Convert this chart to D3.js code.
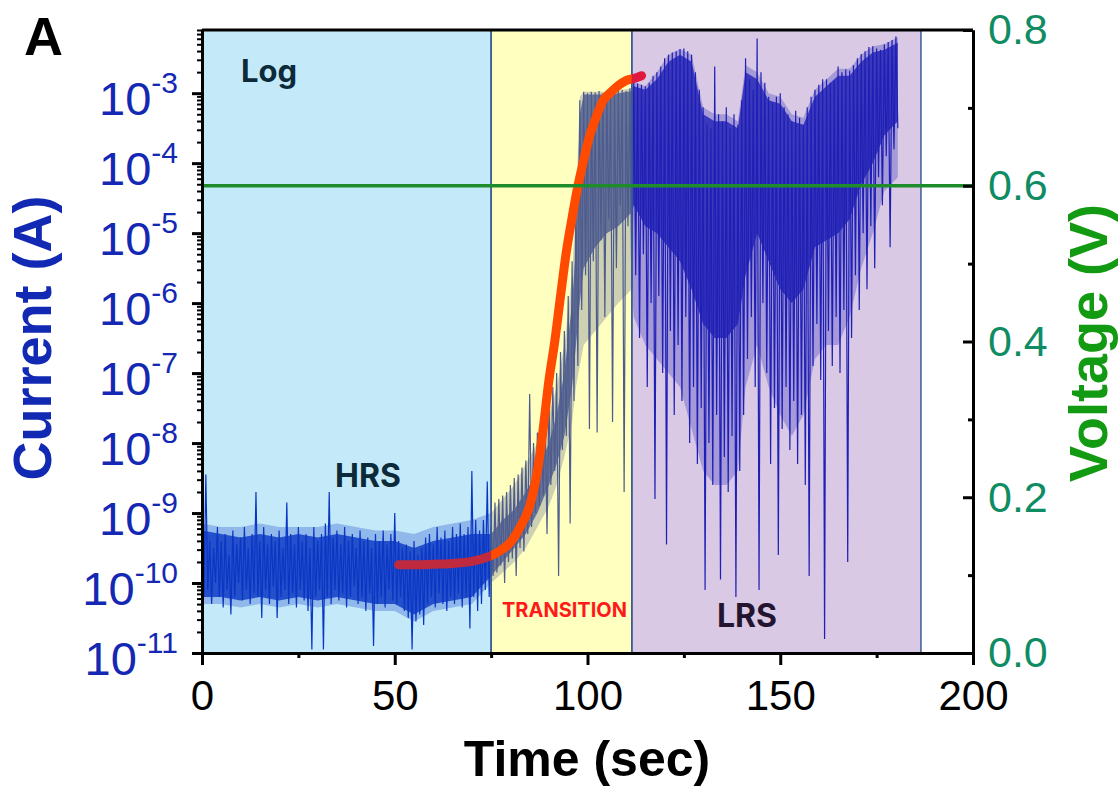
<!DOCTYPE html>
<html><head><meta charset="utf-8">
<script src="https://cdn.jsdelivr.net/npm/d3@7"></script>
<style>body{margin:0;background:#fff}svg{display:block}</style>
</head><body>
<svg id="chart" width="1120" height="788"></svg>
<script>
// ---------------- data ----------------
const xTickValues = [0, 50, 100, 150, 200];
const xMinorTickValues = [25, 75, 125, 175];
const yDecadeExponents = [-11, -10, -9, -8, -7, -6, -5, -4, -3];
const voltTickValues = [0.0, 0.2, 0.4, 0.6, 0.8];
const voltMinorTickValues = [0.1, 0.3, 0.5, 0.7];
const regionNames = ["HRS", "TRANSITION", "LRS"];
const regionStart = [0, 75, 111.5];
const regionEnd = [75, 111.5, 186.5];
const appliedVoltage = 0.6;
const sampleStep = 0.5;   // s between stored samples

// log10(Current / A), sampled every 0.5 s (individual excursions / spikes)
const hrsStartTime = 0;
const hrsLogCurrent = [
 -9.3,-10.2, -8.45,-10.1, -9.4,-10.3, -9.5,-10.0, -9.2,-10.2, -9.4,-10.35, -9.3,-10.1, -9.6,-10.45,
 -9.25,-10.2, -9.45,-10.0, -9.35,-10.25, -9.2,-10.1, -9.5,-10.3, -9.3,-10.15, -8.7,-10.2, -9.4,-10.5,
 -9.2,-10.1, -9.45,-10.3, -9.3,-10.05, -9.4,-10.5, -9.25,-10.2, -9.5,-10.1, -8.85,-10.3, -9.3,-10.15,
 -9.45,-10.35, -9.2,-10.1, -9.4,-10.25, -9.3,-10.4, -9.5,-10.95, -9.2,-10.2, -9.4,-10.1, -9.3,-10.95,
 -9.15,-10.2, -8.7,-10.3, -9.35,-10.1, -9.25,-10.25, -9.45,-10.15, -9.2,-10.35, -9.4,-10.2, -9.3,-10.05,
 -9.5,-10.3, -9.25,-10.2, -9.4,-10.4, -9.35,-10.15, -9.5,-10.9, -9.3,-10.3, -9.4,-10.2, -9.25,-10.35,
 -9.45,-10.1, -9.3,-10.25, -9.0,-10.3, -9.4,-10.2, -9.5,-10.4, -9.45,-10.5, -9.55,-10.95, -9.4,-10.55,
 -9.6,-10.45, -9.5,-10.6, -9.35,-10.3, -9.3,-10.2, -9.45,-10.35, -9.2,-10.15, -9.35,-10.3, -9.25,-10.4,
 -9.4,-10.2, -9.2,-10.3, -9.3,-10.15, -9.15,-10.35, -9.3,-10.2, -9.2,-10.65, -8.4,-10.2, -9.1,-10.4,
 -9.25,-10.3, -9.1,-10.1, -8.55,-10.2, -9.2
];
const transitionStartTime = 75.5;
const transitionLogCurrent = [
 -9.9,
 -8.85,-9.85, -8.8,-9.75, -8.75,-10.0, -8.7,-9.7, -8.6,-9.65, -8.5,-9.9, -8.45,-9.5, -8.35,-9.55,
 -8.25,-9.3, -7.3,-9.2, -8.0,-9.0, -7.85,-8.9, -7.7,-8.75, -7.6,-9.3, -7.4,-8.6, -7.2,-8.4,
 -7.0,-9.9, -6.7,-8.1, -6.4,-7.9, -5.9,-9.15, -5.4,-7.4, -4.5,-6.9, -3.1,-6.1, -2.98,-5.6,
 -3.0,-7.8, -2.98,-5.4, -2.99,-7.85, -2.97,-5.1, -3.0,-6.2, -2.98,-4.8, -3.01,-7.7, -2.98,-5.5,
 -2.97,-4.6, -2.95,-8.7, -2.97,-4.9, -2.93,-5.8
];
const lrsStartTime = 112;
const lrsLogCurrent = [
 -2.84,-5.6, -2.86,-6.5, -2.88,-5.3, -2.9,-7.2, -2.85,-6.0, -2.75,-8.8, -2.7,-5.9, -2.62,-7.0,
 -2.5,-9.45, -2.45,-6.4, -2.42,-7.6, -2.4,-6.6, -2.37,-7.4, -2.36,-6.2, -2.4,-8.0, -2.45,-7.2,
 -2.7,-8.3, -2.95,-7.5, -3.2,-10.1, -3.45,-8.0, -3.5,-8.6, -2.62,-7.6, -3.3,-9.95, -3.4,-8.2,
 -3.2,-8.7, -3.5,-7.9, -3.3,-10.2, -3.45,-8.4, -3.1,-7.6, -2.5,-6.8, -2.8,-6.2, -2.95,-7.2,
 -2.22,-10.1, -2.7,-6.0, -2.85,-7.0, -3.05,-8.3, -3.13,-7.5, -3.05,-9.6, -3.0,-7.8, -3.2,-7.2,
 -3.3,-8.1, -3.4,-7.4, -3.25,-8.3, -3.35,-7.6, -3.45,-8.6, -3.2,-9.9, -3.05,-6.9, -2.95,-6.3,
 -2.88,-7.1, -2.8,-10.8, -2.8,-6.4, -2.85,-6.9, -2.82,-6.2, -2.62,-7.0, -2.7,-6.1, -2.66,-9.7,
 -2.68,-6.5, -2.6,-5.6, -2.5,-6.1, -2.44,-5.0, -2.4,-5.8, -2.34,-4.9, -2.33,-5.5, -2.36,-4.2,
 -2.38,-4.6, -2.3,-3.9, -2.27,-5.2, -2.24,-3.8, -2.19,-3.5
];

// envelope of the densely-sampled signal (log10 A): outer spread and solid core
const bandTime = [0,5,10,15,20,25,30,35,40,45,50,55,60,65,70,
  75,78,81,84,87,90,92,94,96,97,98,99,102,105,108,111.5,
  112,115,118,121,124,127,130,133,136,139,141,144,147,150,153,156,159,162,165,168,171,174,177,180.5];
const bandSpreadUpper = [-9.15,-9.2,-9.2,-9.15,-9.2,-9.2,-9.2,-9.15,-9.2,-9.25,-9.25,-9.3,-9.2,-9.15,-9.1,
  -9.0,-8.8,-8.6,-8.3,-8.0,-7.6,-7.2,-6.6,-5.6,-4.6,-3.05,-2.98,-2.98,-2.98,-2.96,-2.93,
  -2.84,-2.9,-2.7,-2.45,-2.37,-2.45,-3.2,-3.3,-3.3,-3.4,-2.6,-2.7,-3.0,-3.05,-3.3,-3.35,-2.95,-2.8,-2.65,-2.65,-2.45,-2.33,-2.3,-2.2];
const bandCoreUpper = [-9.25,-9.3,-9.35,-9.3,-9.35,-9.3,-9.35,-9.3,-9.35,-9.4,-9.4,-9.5,-9.4,-9.35,-9.3,
  -9.3,-9.1,-8.95,-8.7,-8.4,-8.0,-7.6,-7.0,-6.0,-5.2,-3.3,-3.02,-3.02,-3.02,-3.0,-2.97,
  -2.9,-2.95,-2.8,-2.55,-2.45,-2.55,-3.3,-3.4,-3.4,-3.5,-2.7,-2.8,-3.1,-3.15,-3.4,-3.45,-3.05,-2.9,-2.75,-2.75,-2.55,-2.42,-2.38,-2.28];
const bandCoreLower = [-10.2,-10.2,-10.25,-10.2,-10.25,-10.2,-10.25,-10.2,-10.25,-10.3,-10.3,-10.45,-10.3,-10.25,-10.2,
  -9.9,-9.7,-9.5,-9.3,-9.0,-8.6,-8.3,-7.9,-7.2,-6.6,-6.0,-5.5,-5.2,-5.0,-4.9,-4.7,
  -4.6,-4.9,-5.0,-5.2,-5.4,-5.8,-6.3,-6.5,-6.5,-6.3,-5.6,-5.0,-5.4,-5.8,-6.0,-5.8,-5.2,-5.1,-5.0,-4.8,-4.3,-4.0,-3.6,-3.4];
const bandSpreadLower = [-10.3,-10.3,-10.35,-10.3,-10.35,-10.3,-10.35,-10.3,-10.35,-10.4,-10.4,-10.55,-10.4,-10.35,-10.3,
  -10.0,-9.85,-9.7,-9.5,-9.2,-8.9,-8.6,-8.2,-7.7,-7.2,-6.9,-6.6,-6.4,-6.2,-6.0,-5.8,
  -6.2,-6.6,-6.8,-7.0,-7.2,-7.8,-8.4,-8.6,-8.6,-8.4,-7.2,-6.6,-7.2,-7.6,-7.9,-7.6,-6.8,-6.6,-6.6,-6.2,-5.5,-5.0,-4.4,-4.2];

// sigmoid fit curve (time s, log10 current)
const fitTime = [51, 55, 60, 65, 70, 74, 77, 80, 83, 85, 87, 88.5, 90, 91.5, 93, 94.5, 96, 97.5, 99, 100.5, 102, 104, 106, 108, 110, 112, 114];
const fitLogCurrent = [-9.74, -9.74, -9.73, -9.72, -9.69, -9.63, -9.55, -9.42, -9.15, -8.9, -8.4, -7.8, -7.1, -6.55, -5.9, -5.27, -4.78, -4.33, -3.96, -3.62, -3.38, -3.11, -2.99, -2.89, -2.82, -2.79, -2.75];

// ---------------- styles ----------------
const regionFill = ["#c4eaf9", "#ffffc0", "#d9c9e5"];
const traceColor = ["#0a36c4", "#4d5b8e", "#1f1fb5"];
const fitColor = ["#c02a3e", "#ff4a00", "#e0173e"];
const labelFont = "'Liberation Sans', Arial, sans-serif";
const annotFont = "Inter, 'Open Sans', sans-serif";

const svg = d3.select("#chart");
const x = d3.scaleLinear().domain([0, 200]).range([202, 973]);
const y = d3.scaleLog().domain([1e-11, 8e-3]).range([653, 30]);
const yV = d3.scaleLinear().domain([0, 0.8]).range([653, 30]);

// build series
const trace = [];
hrsLogCurrent.forEach((v, i) => trace.push([hrsStartTime + i * sampleStep, Math.pow(10, v)]));
transitionLogCurrent.forEach((v, i) => trace.push([transitionStartTime + i * sampleStep, Math.pow(10, v)]));
lrsLogCurrent.forEach((v, i) => trace.push([lrsStartTime + i * sampleStep, Math.pow(10, v)]));
const band = bandTime.map((t, i) => ({
  t, su: Math.pow(10, bandSpreadUpper[i]), cu: Math.pow(10, bandCoreUpper[i]),
  cl: Math.pow(10, bandCoreLower[i]), sl: Math.pow(10, bandSpreadLower[i])
}));
const fit = fitTime.map((t, i) => [t, Math.pow(10, fitLogCurrent[i])]);

const defs = svg.append("defs");
regionNames.forEach((n, i) => {
  defs.append("clipPath").attr("id", "clip" + i)
    .append("rect")
    .attr("x", x(regionStart[i])).attr("y", y.range()[1])
    .attr("width", (i === 2 ? x(200) : x(regionEnd[i])) - x(regionStart[i]))
    .attr("height", y.range()[0] - y.range()[1]);
});

// region backgrounds
svg.append("g").selectAll("rect").data(regionNames).join("rect")
  .attr("x", (d, i) => x(regionStart[i]))
  .attr("y", y.range()[1])
  .attr("width", (d, i) => x(regionEnd[i]) - x(regionStart[i]))
  .attr("height", y.range()[0] - y.range()[1])
  .attr("fill", (d, i) => regionFill[i]);

// current signal: envelopes + trace
const spreadArea = d3.area().x(d => x(d.t)).y0(d => y(d.sl)).y1(d => y(d.su));
const coreArea = d3.area().x(d => x(d.t)).y0(d => y(d.cl)).y1(d => y(d.cu));
const line = d3.line().x(d => x(d[0])).y(d => y(d[1]));
regionNames.forEach((n, i) => {
  const g = svg.append("g").attr("clip-path", `url(#clip${i})`);
  g.append("path").datum(band).attr("d", spreadArea).attr("fill", traceColor[i]).attr("opacity", 0.28);
  g.append("path").datum(band).attr("d", coreArea).attr("fill", traceColor[i]).attr("opacity", 0.8);
  g.append("path").datum(trace)
    .attr("d", line)
    .attr("fill", "none")
    .attr("stroke", traceColor[i])
    .attr("stroke-width", 1.2);
});

// region borders
svg.append("g").selectAll("rect").data(regionNames).join("rect")
  .attr("x", (d, i) => x(regionStart[i]))
  .attr("y", y.range()[1])
  .attr("width", (d, i) => x(regionEnd[i]) - x(regionStart[i]))
  .attr("height", y.range()[0] - y.range()[1])
  .attr("fill", "none")
  .attr("stroke", "#3d5c93")
  .attr("stroke-width", 1.5);

// fit curve
const fitLine = d3.line().curve(d3.curveMonotoneX).x(d => x(d[0])).y(d => y(d[1]));
regionNames.forEach((n, i) => {
  svg.append("path").datum(fit)
    .attr("clip-path", `url(#clip${i})`)
    .attr("d", fitLine)
    .attr("fill", "none")
    .attr("stroke", fitColor[i])
    .attr("stroke-width", 9)
    .attr("stroke-linecap", "round");
});

// voltage line
svg.append("line")
  .attr("x1", x(0)).attr("x2", x(200))
  .attr("y1", yV(appliedVoltage)).attr("y2", yV(appliedVoltage))
  .attr("stroke", "#1e8c2a").attr("stroke-width", 3.5);

// top frame
svg.append("line").attr("x1", x(0)).attr("x2", x(200)).attr("y1", yV(0.8)).attr("y2", yV(0.8))
  .attr("stroke", "#000").attr("stroke-width", 3);

function styleAxis(g) {
  g.select(".domain").attr("stroke", "#000").attr("stroke-width", 3);
  g.selectAll(".tick line").attr("stroke", "#000").attr("stroke-width", 3);
}

// x axis
const gxMinor = svg.append("g").attr("transform", `translate(0,${y.range()[0]})`)
  .call(d3.axisBottom(x).tickValues(xMinorTickValues).tickSize(5).tickSizeOuter(0).tickFormat(""));
styleAxis(gxMinor);
const gx = svg.append("g").attr("transform", `translate(0,${y.range()[0]})`)
  .call(d3.axisBottom(x).tickValues(xTickValues).tickSize(12).tickSizeOuter(0).tickPadding(15).tickFormat(d3.format("d")));
styleAxis(gx);
gx.selectAll("text").attr("font-family", labelFont).attr("font-size", 42).attr("fill", "#000");

// left log axis
const minorLog = y.ticks().filter(v => Math.abs(Math.log10(v) - Math.round(Math.log10(v))) > 1e-6);
const gyMinor = svg.append("g").attr("transform", `translate(${x(0)},0)`)
  .call(d3.axisLeft(y).tickValues(minorLog).tickSize(5).tickSizeOuter(0).tickFormat(""));
styleAxis(gyMinor);
gyMinor.selectAll(".tick line").attr("stroke-width", 2);
const gy = svg.append("g").attr("transform", `translate(${x(0)},0)`)
  .call(d3.axisLeft(y).tickValues(yDecadeExponents.map(e => Math.pow(10, e))).tickSize(10).tickSizeOuter(0).tickFormat(""));
styleAxis(gy);
const yLab = svg.append("g");
yDecadeExponents.forEach(e => {
  const t = yLab.append("text")
    .attr("x", 178).attr("y", y(Math.pow(10, e)) + 22)
    .attr("text-anchor", "end")
    .attr("font-family", labelFont).attr("fill", "#1428b4");
  t.append("tspan").attr("font-size", 47).text("10");
  t.append("tspan").attr("font-size", 30).attr("dy", -22).text("-" + Math.abs(e));
});

// right voltage axis
const gvMinor = svg.append("g").attr("transform", `translate(${x(200)},0)`)
  .call(d3.axisRight(yV).tickValues(voltMinorTickValues).tickSize(-5).tickSizeOuter(0).tickFormat(""));
styleAxis(gvMinor);
const gv = svg.append("g").attr("transform", `translate(${x(200)},0)`)
  .call(d3.axisRight(yV).tickValues(voltTickValues).tickSize(-10).tickSizeOuter(0).tickPadding(15).tickFormat(d3.format(".1f")));
styleAxis(gv);
gv.selectAll("text").attr("font-family", labelFont).attr("font-size", 43).attr("fill", "#0f8c64");

// axis titles
svg.append("text").attr("transform", "translate(51,338) rotate(-90)")
  .attr("text-anchor", "middle").attr("font-family", labelFont).attr("font-weight", "bold")
  .attr("font-size", 54).attr("fill", "#1229b3").text("Current (A)");
svg.append("text").attr("transform", "translate(1107,343) rotate(-90)")
  .attr("text-anchor", "middle").attr("font-family", labelFont).attr("font-weight", "bold")
  .attr("font-size", 54).attr("fill", "#139a13").text("Voltage (V)");
svg.append("text").attr("x", 587).attr("y", 776)
  .attr("text-anchor", "middle").attr("font-family", labelFont).attr("font-weight", "bold")
  .attr("font-size", 50).attr("fill", "#000").text("Time (sec)");
svg.append("text").attr("x", 24).attr("y", 55)
  .attr("font-family", labelFont).attr("font-weight", "bold")
  .attr("font-size", 54).attr("fill", "#000").text("A");

// annotations
const ann = svg.append("g").attr("font-family", annotFont).attr("font-weight", 700);
ann.append("text").attr("x", 241).attr("y", 82).attr("font-size", 31).attr("fill", "#0c2a3a").text("Log");
ann.append("text").attr("x", 335).attr("y", 487).attr("font-size", 32).attr("fill", "#0c2a3a").text(regionNames[0]);
ann.append("text").attr("x", 502).attr("y", 617).attr("font-size", 20).attr("fill", "#ff1a1a").text(regionNames[1]);
ann.append("text").attr("x", 717).attr("y", 627).attr("font-size", 32).attr("fill", "#231530").text(regionNames[2]);
</script>
</body></html>
